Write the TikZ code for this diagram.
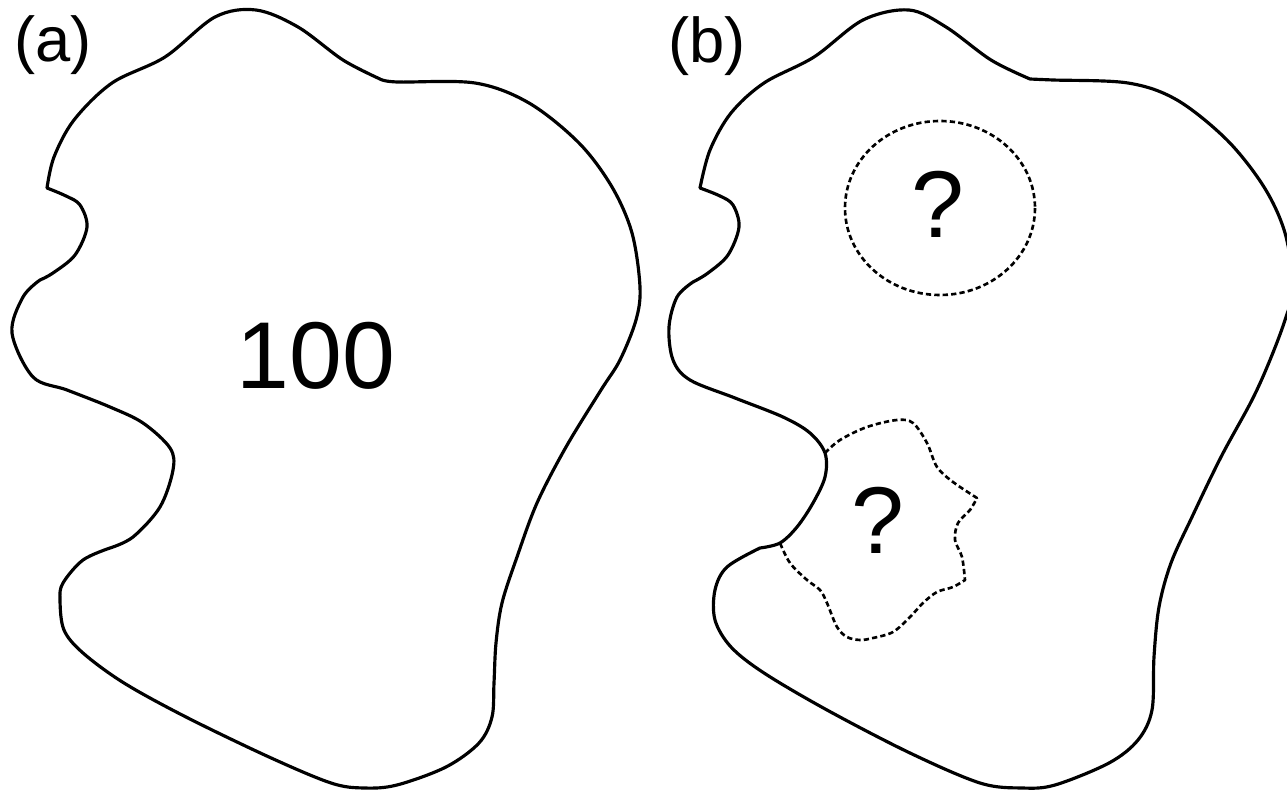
\documentclass[tikz,border=0pt]{standalone}
\usepackage{fontspec}
\setmainfont{Liberation Sans}
\begin{document}
\begin{tikzpicture}[x=0.01cm,y=-0.01cm,
  outline/.style={draw=black,line width=0.9pt,line join=round,line cap=round},
  dashline/.style={draw=black,line width=0.75pt,dash pattern=on 1.5pt off 0.9pt,line join=round},
  biglabel/.style={font=\fontsize{27}{27}\selectfont,inner sep=0pt},
  panellabel/.style={font=\fontsize{18}{18}\selectfont,inner sep=0pt}]
\useasboundingbox (0,0) rectangle (1287,791);
% ---------- panel (a) ----------
\draw[outline]
  plot[smooth,tension=0.55] coordinates {(47,188) (54,157) (74,120) (112,83) (165,57) (215,17) (256,10) (298,27) (343,60) (380,79)}
  -- plot[smooth,tension=0.55] coordinates {(380,79) (397,82) (475,83) (529,103) (579,143) (612,187) (632,233) (640,287) (636,320) (620,360) (601,390) (566,447) (537,503) (517,557) (502,603) (496,643) (494,683) (492,717) (479,743) (446,767) (397,785) (364,788) (331,783) (269,757) (186,717) (124,683) (83,653) (64,630) (60,600) (63,583) (83,560) (110,548)}
  -- plot[smooth,tension=0.55] coordinates {(110,548) (133,537) (160,507) (173,470) (170,448) (143,423) (110,407) (67,390) (33,377) (12,333) (23,297) (40,280)}
  -- plot[smooth,tension=0.55] coordinates {(40,280) (53,273) (75,255) (87,227) (80,205) (66,196) (47,188)}
  -- cycle;
\node[panellabel] (la) at (53,45) {(a)};
\node[biglabel] (hundred) at (316,356) {100};
% ---------- panel (b) ----------
\draw[outline]
  plot[smooth,tension=0.55] coordinates {(700,188) (710,150) (731,113) (764,83) (814,57) (863,20) (909,10) (946,27) (991,60) (1030,79)}
  -- plot[smooth,tension=0.55] coordinates {(1030,79) (1053,80) (1128,83) (1177,100) (1227,140) (1264,187) (1285,233) (1293,287) (1285,320) (1270,360) (1252,400) (1221,457) (1192,517) (1171,563) (1159,607) (1154,657) (1152,710) (1138,740) (1109,763) (1055,785) (1022,788) (980,783) (910,753) (827,710) (764,673) (731,647) (715,620) (715,590) (727,567) (760,548)}
  -- plot[smooth,tension=0.55] coordinates {(760,548) (780,543) (797,527) (813,503) (825,477) (825,453) (810,433) (783,417) (735,398) (690,380) (673,360) (669,327) (677,297) (693,282)}
  -- plot[smooth,tension=0.55] coordinates {(693,282) (708,273) (728,255) (739,227) (733,205) (720,196) (700,188)}
  -- cycle;
\node[panellabel] (lb) at (707,46) {(b)};
% dashed circle
\draw[dashline] (940,208) ellipse [x radius=95, y radius=87];
\node[biglabel] (q1) at (938,204) {?};
% dashed star-like region attached to the outline
\draw[dashline]
  plot[smooth,tension=0.55] coordinates {(825,453) (840,440) (867,427) (897,420) (913,423) (927,443) (937,467) (953,482) (977,498)}
  -- plot[smooth,tension=0.55] coordinates {(977,498) (970,510) (958,523) (955,540) (962,557) (965,580)}
  -- plot[smooth,tension=0.55] coordinates {(965,580) (953,587) (937,592) (923,603) (910,617) (893,632) (873,638) (860,640) (847,637) (837,627) (827,603) (820,590) (807,580) (790,563) (780,543)};
\node[biglabel] (q2) at (878,520) {?};
\end{tikzpicture}
\end{document}
